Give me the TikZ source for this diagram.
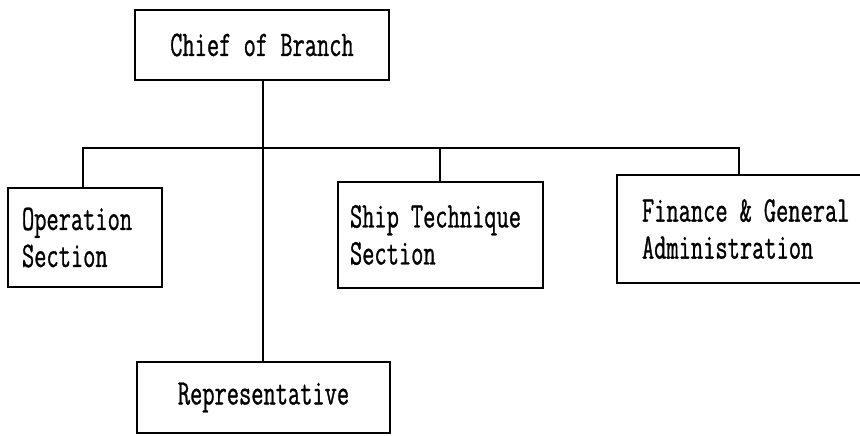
\documentclass[tikz,border=0pt]{standalone}
\usepackage{fontspec}
\newfontfamily\chartfont[FakeStretch=0.66,FakeBold=0.8]{Latin Modern Mono}
\begin{document}
\begin{tikzpicture}[x=1pt,y=-1pt,
  unit/.style={draw,line width=1.3pt,rectangle,inner sep=0pt,
    font=\chartfont\fontsize{36}{37}\selectfont},
  link/.style={line width=1.3pt}]
\useasboundingbox (0,0) rectangle (860,436);
\clip (0,0) rectangle (860,436);

% top and bottom of the hierarchy
\node[unit,minimum width=254,minimum height=70] (chief) at (262,45) {Chief of Branch};
\node[unit,minimum width=253,minimum height=71] (rep) at (263.5,397.5) {Representative};

% sections under the bus line
\node[unit,minimum width=154,minimum height=99,text width=126,align=left] (op) at (85,237.5)
  {Operation\\Section};
\node[unit,minimum width=205,minimum height=106,text width=181,align=left] (ship) at (440.5,235)
  {Ship Technique\\Section};
\node[unit,minimum width=260,minimum height=108,text width=210,align=left] (fin) at (747,229)
  {\mbox{Finance \& General}\\Administration};

% connectors
\coordinate (busL) at (83,148);
\coordinate (busM) at (440,148);
\coordinate (busR) at (739,148);
\draw[link] (chief.south -| 263,0) -- (rep.north -| 263,0);
\draw[link] (op.north -| busL) -- (busL) -- (busR) -- (fin.north -| busR);
\draw[link] (ship.north -| busM) -- (busM);
\end{tikzpicture}
\end{document}
